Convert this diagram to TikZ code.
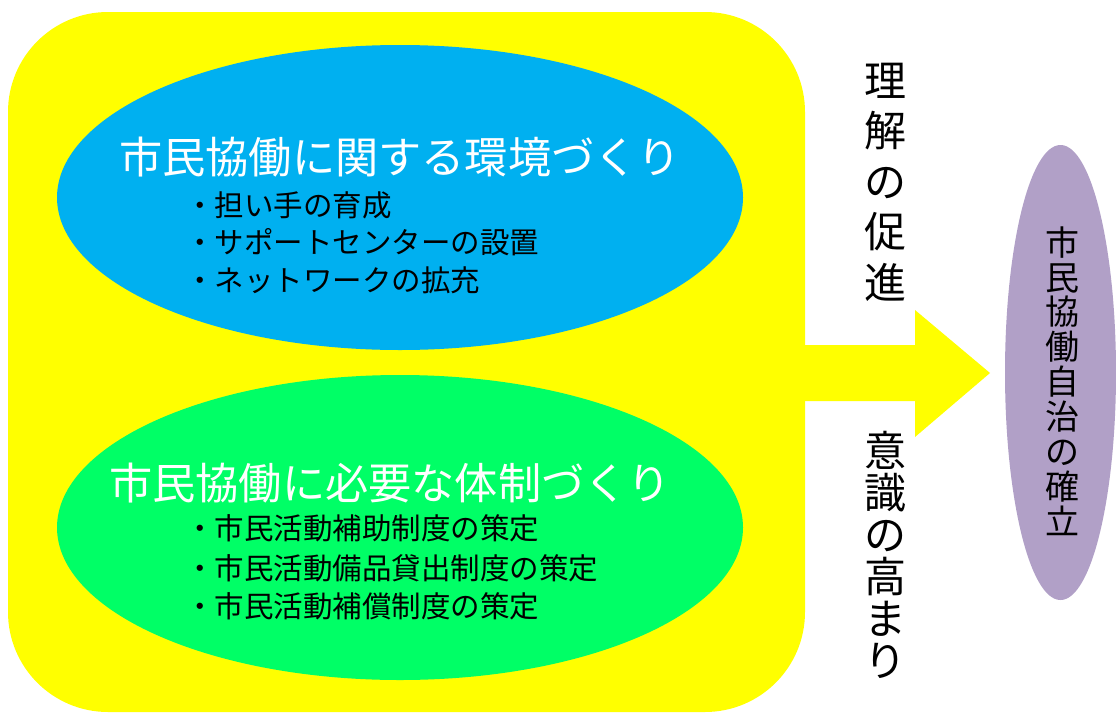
\documentclass[tikz,border=0pt]{standalone}
\usepackage{fontspec}
\newfontfamily\jp{Noto Sans CJK JP}
\definecolor{ybg}{HTML}{FFFF00}
\definecolor{bluef}{HTML}{00B0F0}
\definecolor{greenf}{HTML}{00FF66}
\definecolor{purplef}{HTML}{B1A0C7}
\begin{document}
\begin{tikzpicture}[x=1pt,y=-1pt,
  title/.style={font=\jp\fontsize{43.2}{43.2}\selectfont, text=white, inner sep=0pt},
  item/.style={font=\jp\fontsize{29.5}{29.5}\selectfont, text=black, inner sep=0pt, anchor=west},
  vtext/.style={font=\jp\fontsize{#1}{#1}\selectfont, align=center, inner sep=0pt, text=black}]
\useasboundingbox (0,0) rectangle (1116,715);
\fill[white] (0,0) rectangle (1116,715);
% yellow panel
\fill[ybg, rounded corners=100pt] (8,12) rectangle (805,712);
% arrow
\fill[ybg] (800,345) -- (915,345) -- (915,310) -- (990,373) -- (915,437) -- (915,401) -- (800,401) -- cycle;
% ellipses
\fill[bluef] (400,197.5) ellipse [x radius=343, y radius=152.5];
\fill[greenf] (400,527.5) ellipse [x radius=343, y radius=152.5];
\fill[purplef] (1060.5,372.5) ellipse [x radius=55.5, y radius=227.5];
% blue texts
\node (t1) [title] at (400,157) {市民協働に関する環境づくり};
\node (b1) [item] at (185,205) {・担い手の育成};
\node (b2) [item] at (185,242) {・サポートセンターの設置};
\node (b3) [item] at (185,280) {・ネットワークの拡充};
% green texts
\node (t2) [title] at (390,483) {市民協働に必要な体制づくり};
\node (g1) [item] at (185,528) {・市民活動補助制度の策定};
\node (g2) [item] at (185,568) {・市民活動備品貸出制度の策定};
\node (g3) [item] at (185,606) {・市民活動補償制度の策定};
% vertical texts
\node (v1) [vtext=42, execute at begin node={\baselineskip=50.5pt}] at (885,182) {理\\解\\の\\促\\進};
\node (v2) [vtext=42, execute at begin node={\baselineskip=42pt}] at (885,555) {意\\識\\の\\高\\ま\\り};
\node (v3) [vtext=34, execute at begin node={\baselineskip=34.9pt}] at (1062,381) {市\\民\\協\\働\\自\\治\\の\\確\\立};
\end{tikzpicture}
\end{document}
